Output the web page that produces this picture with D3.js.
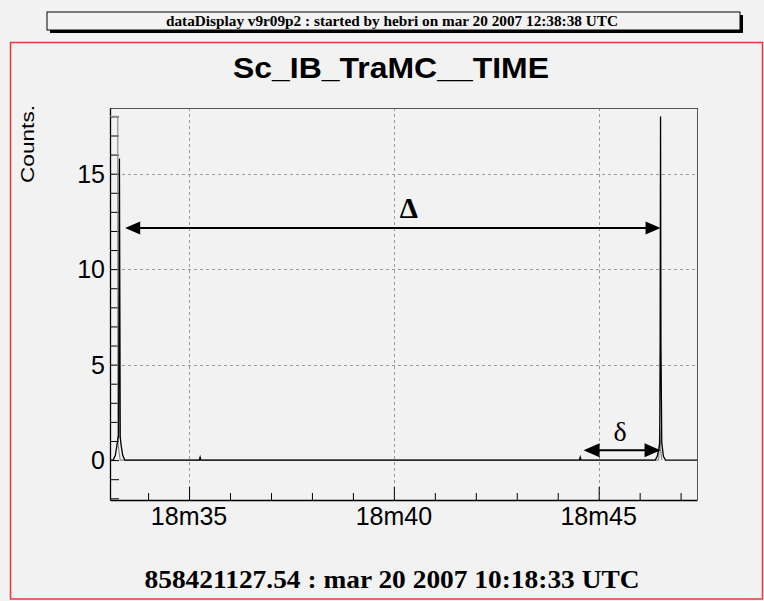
<!DOCTYPE html>
<html>
<head>
<meta charset="utf-8">
<style>
  body { margin: 0; background: #f2f2f2; }
  svg { display: block; }
  .tick-label { font-family: "Liberation Sans", Arial, sans-serif; font-size: 25px; fill: #000; }
  .grid line { stroke: #9a9a9a; stroke-dasharray: 3,3; stroke-width: 1; }
</style>
</head>
<body>
<svg id="chart" width="764" height="601"></svg>
<script src="https://cdn.jsdelivr.net/npm/d3@7"></script>
<script>
// data: time in seconds after 10:18:00, counts per bin
var bannerText = "dataDisplay v9r09p2 : started by hebri on mar 20 2007 12:38:38 UTC";
var titleText = "Sc_IB_TraMC__TIME";
var yTitle = "Counts.";
var footerText = "858421127.54 : mar 20 2007 10:18:33 UTC";

var timeDomain = [33.07, 47.40];
var countDomain = [-2.09, 18.44];
var xMajorTicks = [35, 40, 45];
var xTickLabels = ["18m35", "18m40", "18m45"];
var yMajorTicks = [0, 5, 10, 15];

// black histogram trace
var blackTime   = [33.07, 33.15, 33.20, 33.24, 33.27, 33.28, 33.30, 33.32, 33.34, 33.38, 33.43, 35.25, 35.27, 35.29, 44.53, 44.55, 44.57, 46.38, 46.43, 46.47, 46.49, 46.50, 46.51, 46.52, 46.54, 46.58, 46.63, 47.40];
var blackCounts = [0,     0,     0.25,  0.8,   1.2,   1.2,   15.8,  1.2,   0.8,   0.25,  0,     0,     0.15,  0,     0,     0.15,  0,     0,     0.2,   0.6,   0.9,   6.0,   18.0,  6.0,   0.9,   0.2,   0,     0];

// grey histogram trace (coarser binning)
var greyTime   = [33.07, 33.26, 33.26, 33.28, 33.32, 46.46, 46.48, 46.49, 46.51, 46.54];
var greyCounts = [18.0,  18.0,  1.0,   0.6,   0,     0,     0.6,   1.67,  0.6,   0];

// annotation arrows: [t0, t1, counts]
var deltaArrow = [33.44, 46.51, 12.15];
var smallArrow = [44.63, 46.51, 0.52];

var svg = d3.select("#chart");

var plot = { left: 110, right: 697, top: 108, bottom: 500 };

var x = d3.scaleLinear().domain(timeDomain).range([plot.left, plot.right]);
var y = d3.scaleLinear().domain(countDomain).range([plot.bottom, plot.top]);

// page background
svg.append("rect").attr("width", 764).attr("height", 601).attr("fill", "#f2f2f2");

// banner with drop shadow
svg.append("rect").attr("x", 50).attr("y", 15).attr("width", 693).attr("height", 18).attr("fill", "#000");
svg.append("rect").attr("x", 47).attr("y", 12).attr("width", 693).attr("height", 18)
  .attr("fill", "#f2f2f2").attr("stroke", "#000").attr("stroke-width", 1);
svg.append("text")
  .attr("x", 392).attr("y", 26)
  .attr("text-anchor", "middle")
  .attr("font-family", "Liberation Serif, serif")
  .attr("font-weight", "bold")
  .attr("font-size", 14)
  .attr("textLength", 452).attr("lengthAdjust", "spacingAndGlyphs")
  .text(bannerText);

// red pad frame
svg.append("rect").attr("x", 10.5).attr("y", 42.5).attr("width", 752).attr("height", 556.5)
  .attr("fill", "none").attr("stroke", "#e8383a").attr("stroke-width", 1.5);

// title
svg.append("text")
  .attr("x", 391).attr("y", 78)
  .attr("text-anchor", "middle")
  .attr("font-family", "Liberation Sans, Arial, sans-serif")
  .attr("font-weight", "bold")
  .attr("font-size", 30)
  .attr("textLength", 316).attr("lengthAdjust", "spacingAndGlyphs")
  .text(titleText);

// grid
var grid = svg.append("g").attr("class", "grid");
grid.selectAll(".gx").data(xMajorTicks).enter().append("line")
  .attr("x1", function (d) { return Math.round(x(d)) + 0.5; })
  .attr("x2", function (d) { return Math.round(x(d)) + 0.5; })
  .attr("y1", plot.top).attr("y2", plot.bottom);
grid.selectAll(".gy").data(yMajorTicks.filter(function (d) { return d > 0; })).enter().append("line")
  .attr("y1", function (d) { return Math.round(y(d)) + 0.5; })
  .attr("y2", function (d) { return Math.round(y(d)) + 0.5; })
  .attr("x1", plot.left).attr("x2", plot.right);

// frame (top/right grey, axes black)
svg.append("line").attr("x1", plot.left).attr("x2", plot.right).attr("y1", plot.top + 0.5).attr("y2", plot.top + 0.5)
  .attr("stroke", "#555");
svg.append("line").attr("x1", plot.right + 0.5).attr("x2", plot.right + 0.5).attr("y1", plot.top).attr("y2", plot.bottom)
  .attr("stroke", "#555");

// x axis
var xAxis = d3.axisBottom(x)
  .tickValues(d3.range(34, 48, 1))
  .tickSizeInner(-7).tickSizeOuter(0)
  .tickFormat("");
var gx = svg.append("g").attr("transform", "translate(0," + plot.bottom + ")").call(xAxis);
gx.select(".domain").attr("stroke", "#000").attr("stroke-width", 1.3);
gx.selectAll(".tick line").attr("stroke", "#000")
  .attr("y2", function (d) { return xMajorTicks.indexOf(d) >= 0 ? -13 : -7; });

svg.selectAll(".xlab").data(xMajorTicks).enter().append("text")
  .attr("class", "tick-label")
  .attr("x", function (d) { return x(d); })
  .attr("y", 525)
  .attr("text-anchor", "middle")
  .text(function (d, i) { return xTickLabels[i]; });

// y axis
var yAxis = d3.axisLeft(y)
  .tickValues(d3.range(-2, 19, 1))
  .tickSizeInner(-9).tickSizeOuter(0)
  .tickFormat("");
var gy = svg.append("g").attr("transform", "translate(" + plot.left + ",0)").call(yAxis);
gy.select(".domain").attr("stroke", "#000").attr("stroke-width", 1.3);
gy.selectAll(".tick line").attr("stroke", "#000");

svg.selectAll(".ylab").data(yMajorTicks).enter().append("text")
  .attr("class", "tick-label")
  .attr("x", 105)
  .attr("y", function (d) { return y(d); })
  .attr("dy", "0.36em")
  .attr("text-anchor", "end")
  .text(function (d) { return d; });

svg.append("text")
  .attr("transform", "translate(34,183) rotate(-90)")
  .attr("font-family", "Liberation Sans, Arial, sans-serif")
  .attr("font-size", 19)
  .attr("textLength", 78).attr("lengthAdjust", "spacingAndGlyphs")
  .text(yTitle);

// histogram traces
var line = d3.line()
  .x(function (d) { return x(d[0]); })
  .y(function (d) { return y(d[1]); });

svg.append("path")
  .datum(d3.zip(greyTime, greyCounts))
  .attr("fill", "none").attr("stroke", "#8c8c8c").attr("stroke-width", 1.2)
  .attr("d", line);

svg.append("path")
  .datum(d3.zip(blackTime, blackCounts))
  .attr("fill", "none").attr("stroke", "#000").attr("stroke-width", 1.3)
  .attr("d", line);

// arrows
function arrowHead(tipX, tipY, dir, len, half) {
  return "M" + tipX + "," + tipY +
    "L" + (tipX - dir * len) + "," + (tipY - half) +
    "L" + (tipX - dir * len) + "," + (tipY + half) + "Z";
}

function doubleArrow(a, len, half) {
  var x0 = x(a[0]), x1 = x(a[1]), yy = y(a[2]);
  svg.append("line").attr("x1", x0 + 4).attr("x2", x1 - 4).attr("y1", yy).attr("y2", yy)
    .attr("stroke", "#000").attr("stroke-width", 2);
  svg.append("path").attr("d", arrowHead(x0, yy, -1, len, half)).attr("fill", "#000");
  svg.append("path").attr("d", arrowHead(x1, yy, 1, len, half)).attr("fill", "#000");
}

doubleArrow(deltaArrow, 15, 6.5);
doubleArrow(smallArrow, 16, 7);

svg.append("text")
  .attr("x", (x(deltaArrow[0]) + x(deltaArrow[1])) / 2 + 16)
  .attr("y", y(deltaArrow[2]) - 10)
  .attr("text-anchor", "middle")
  .attr("font-family", "Liberation Serif, serif")
  .attr("font-weight", "bold")
  .attr("font-size", 29)
  .text("\u0394");

svg.append("text")
  .attr("x", (x(smallArrow[0]) + x(smallArrow[1])) / 2 - 2)
  .attr("y", y(smallArrow[2]) - 9)
  .attr("text-anchor", "middle")
  .attr("font-family", "Liberation Serif, serif")
  .attr("font-size", 28)
  .text("\u03b4");

// footer
svg.append("text")
  .attr("x", 392).attr("y", 588)
  .attr("text-anchor", "middle")
  .attr("font-family", "Liberation Serif, serif")
  .attr("font-weight", "bold")
  .attr("font-size", 26)
  .attr("textLength", 495).attr("lengthAdjust", "spacingAndGlyphs")
  .text(footerText);
</script>
</body>
</html>
